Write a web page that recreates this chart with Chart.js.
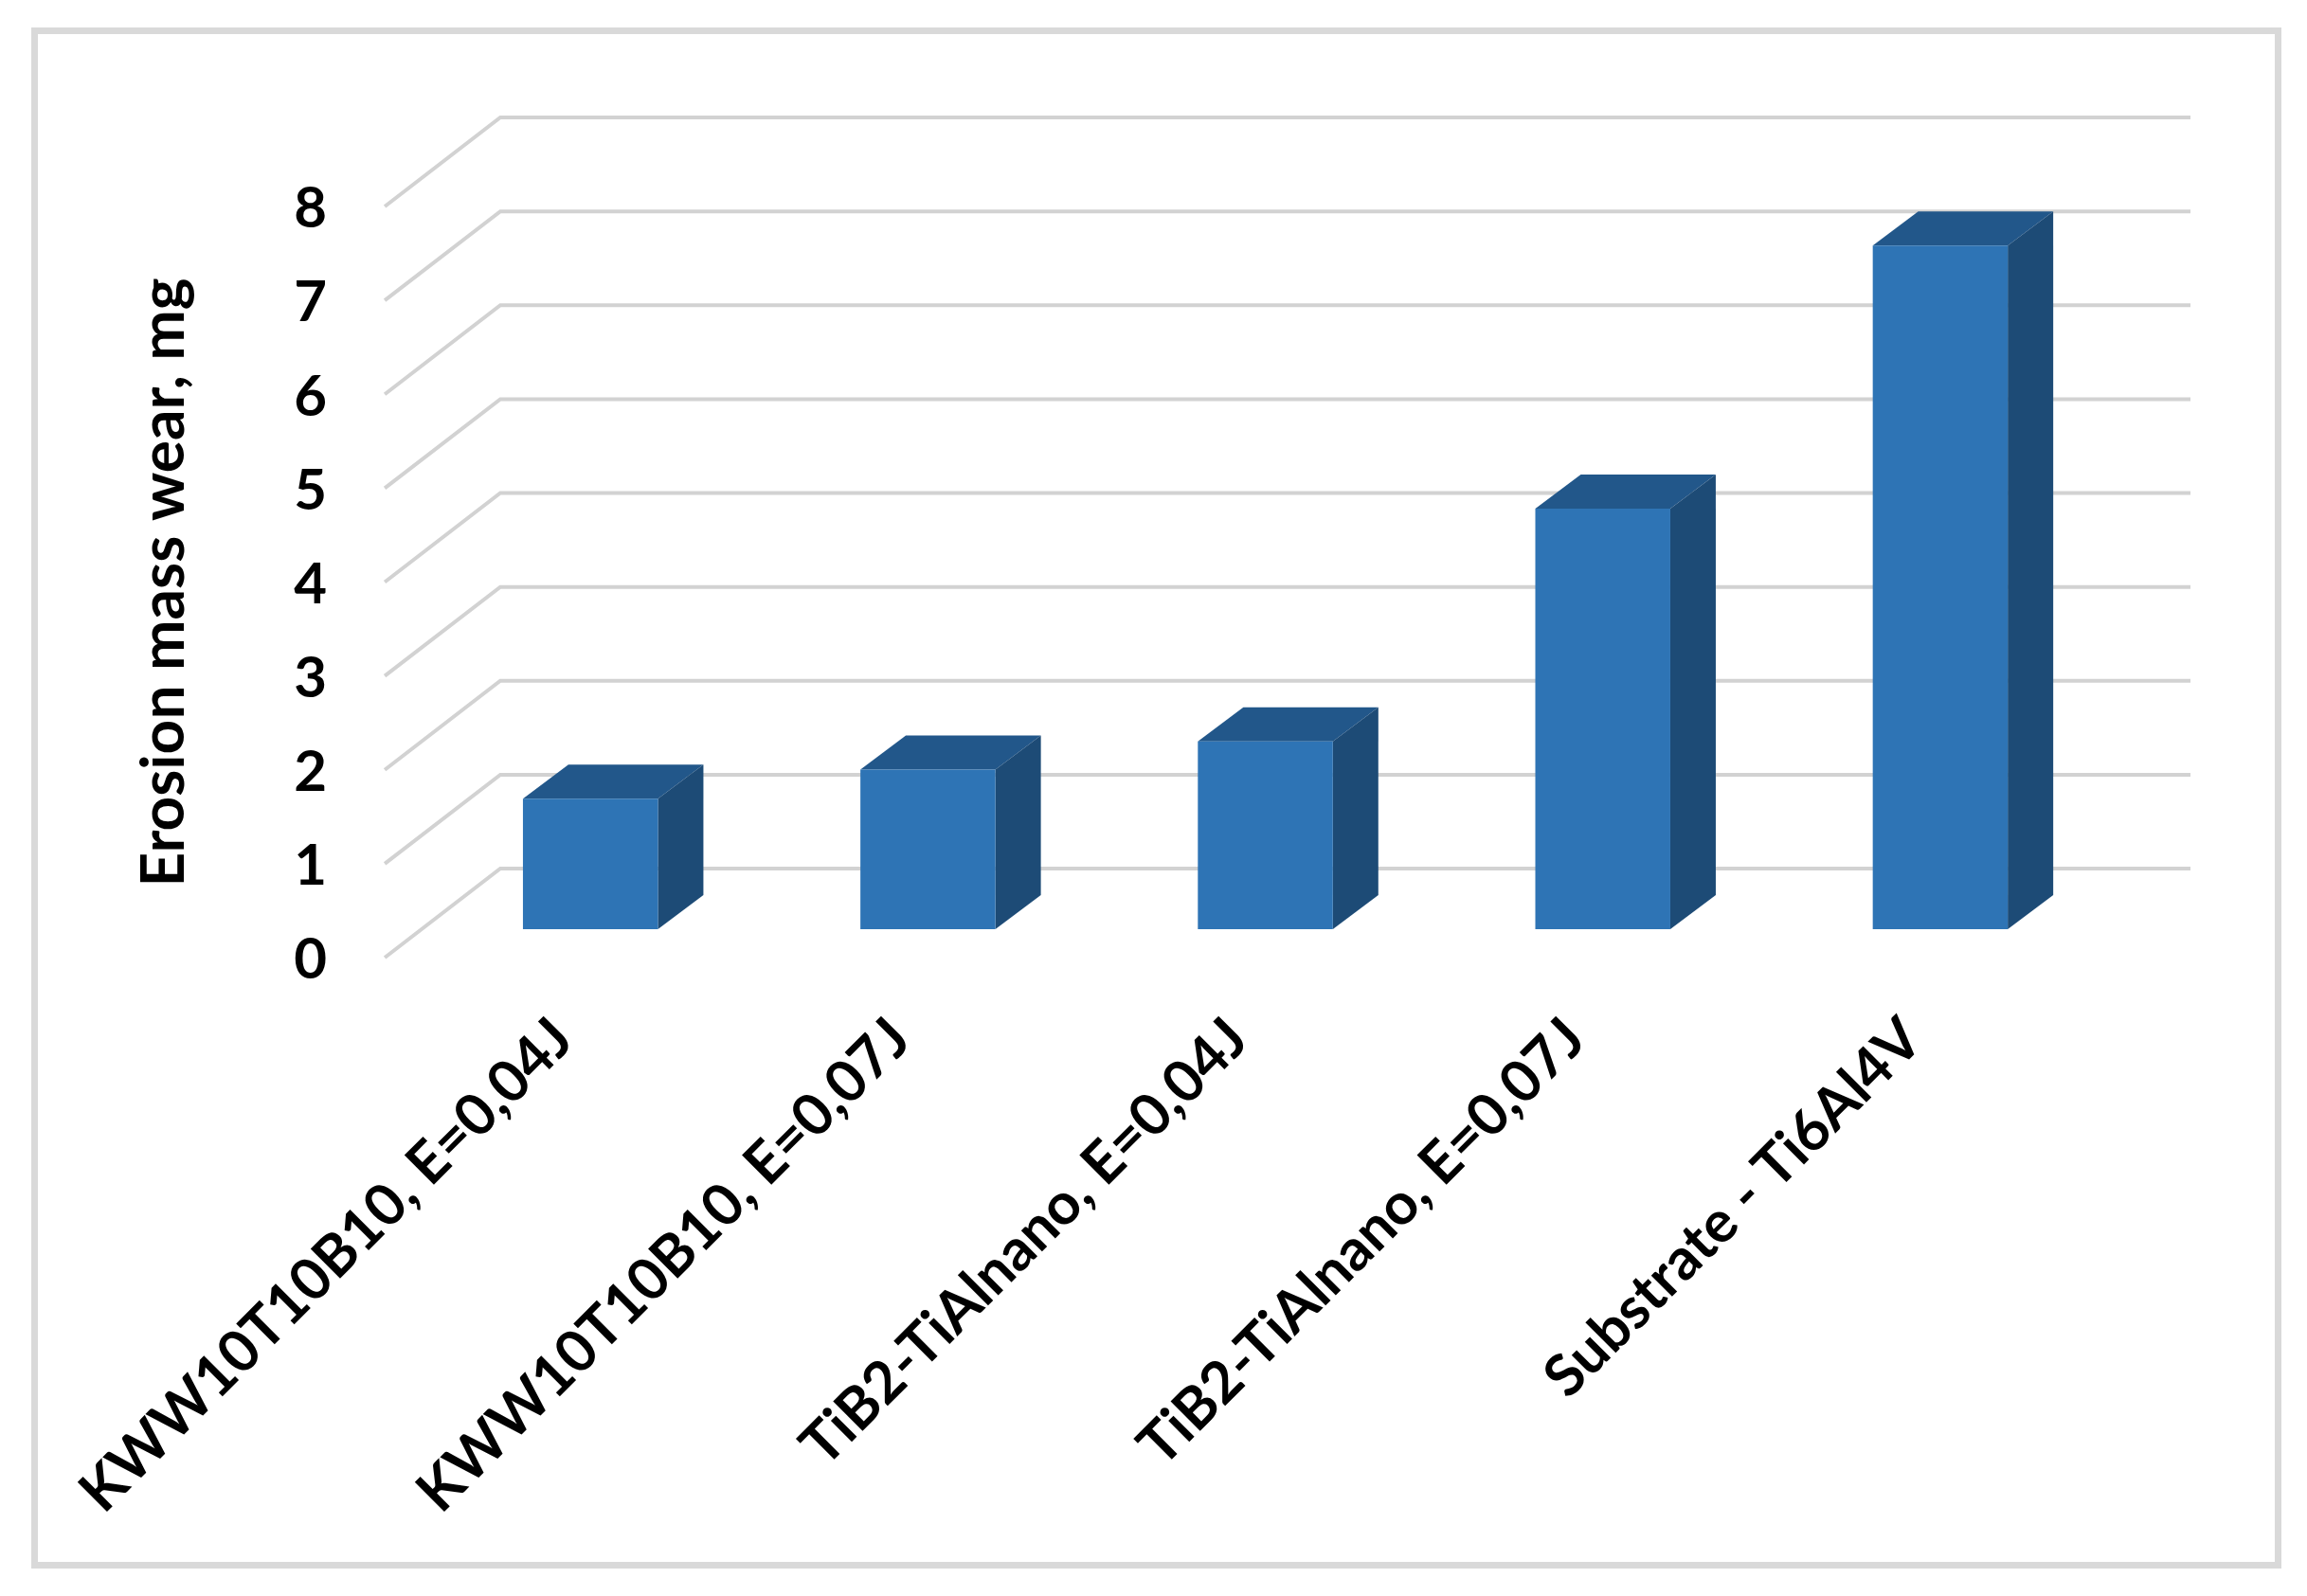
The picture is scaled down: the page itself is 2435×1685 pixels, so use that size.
<!DOCTYPE html>
<html>
<head>
<meta charset="utf-8">
<script src="https://cdn.jsdelivr.net/npm/chart.js@4"></script>
<style>
    html, body { margin: 0; padding: 0; background: #fff; }
    #frame { position: absolute; left: 33px; top: 29px; width: 2361px; height: 1613px; border: 7px solid #d9d9d9; }
    #chart { position: absolute; left: 0; top: 0; }
</style>
</head>
<body>
<div id="frame"></div>
<canvas id="chart" width="2435" height="1685"></canvas>
<script>
const categories = [
    "KWW10T10B10, E=0,04J",
    "KWW10T10B10, E=0,07J",
    "TiB2-TiAlnano, E=0,04J",
    "TiB2-TiAlnano, E=0,07J",
    "Substrate - Ti6Al4V"
];
const wearValues = [1.39, 1.7, 2.0, 4.48, 7.28];
const yTitle = "Erosion mass wear, mg";

// Perspectiva de la caja 3D (en pixeles, respecto al plano de las barras)
const FRONT = { dx: -39, dy: 30 };
const BACK = { dx: 83, dy: -64 };
const BAR_DEPTH = { dx: 48, dy: -36 };

function polygon(ctx, points, color) {
    ctx.fillStyle = color;
    ctx.beginPath();
    points.forEach((p, i) => i ? ctx.lineTo(p[0], p[1]) : ctx.moveTo(p[0], p[1]));
    ctx.closePath();
    ctx.fill();
}

const box3d = {
    id: "box3d",
    beforeDatasetsDraw(chart) {
        const ctx = chart.ctx;
        const { x, y } = chart.scales;
        const area = chart.chartArea;

        // Lineas de la pared y del lateral
        ctx.save();
        ctx.strokeStyle = "#d2d2d2";
        ctx.lineWidth = 4;
        y.ticks.forEach(t => {
            const py = y.getPixelForValue(t.value);
            ctx.beginPath();
            ctx.moveTo(area.left + FRONT.dx, py + FRONT.dy);
            ctx.lineTo(area.left + BACK.dx, py + BACK.dy);
            ctx.lineTo(area.right + BACK.dx + 3, py + BACK.dy);
            ctx.stroke();
        });

        // Caras superior y lateral de cada barra
        chart.getDatasetMeta(0).data.forEach(bar => {
            const left = bar.x - bar.width / 2;
            const right = bar.x + bar.width / 2;
            const d = BAR_DEPTH;
            polygon(ctx, [[left, bar.y], [right, bar.y], [right + d.dx, bar.y + d.dy], [left + d.dx, bar.y + d.dy]], "#22578a");
            polygon(ctx, [[right, bar.y], [right + d.dx, bar.y + d.dy], [right + d.dx, bar.base + d.dy], [right, bar.base]], "#1d4b76");
        });
        ctx.restore();

        // Titulo del eje Y
        ctx.save();
        ctx.translate(173, 615);
        ctx.rotate(-Math.PI / 2);
        ctx.font = "bold 64px Lato";
        ctx.fillStyle = "#000";
        ctx.textAlign = "center";
        ctx.textBaseline = "middle";
        ctx.fillText(yTitle, 0, 0);
        ctx.restore();
    }
};

new Chart(document.getElementById("chart").getContext("2d"), {
    type: "bar",
    data: {
        labels: categories,
        datasets: [{
            data: wearValues,
            backgroundColor: "#2e74b5",
            barPercentage: 0.4,
            categoryPercentage: 1
        }]
    },
    options: {
        responsive: false,
        animation: false,
        layout: { padding: { top: 188, right: 209, bottom: 0, left: 0 } },
        plugins: { legend: { display: false }, tooltip: { enabled: false } },
        scales: {
            x: {
                grid: { display: false, drawTicks: false },
                border: { display: false },
                afterFit: s => { s.height = 704; },
                ticks: {
                    autoSkip: false,
                    minRotation: 45,
                    maxRotation: 45,
                    padding: 80,
                    labelOffset: -29,
                    color: "#000",
                    font: { family: "Lato", weight: "bold", size: 61 }
                }
            },
            y: {
                min: 0,
                max: 8,
                grid: { display: false, drawTicks: false },
                border: { display: false },
                afterFit: s => { s.width = 445; },
                ticks: {
                    stepSize: 1,
                    padding: 100,
                    labelOffset: 33,
                    color: "#000",
                    font: { family: "Lato", weight: "bold", size: 60 }
                }
            }
        }
    },
    plugins: [box3d]
});
</script>
</body>
</html>
